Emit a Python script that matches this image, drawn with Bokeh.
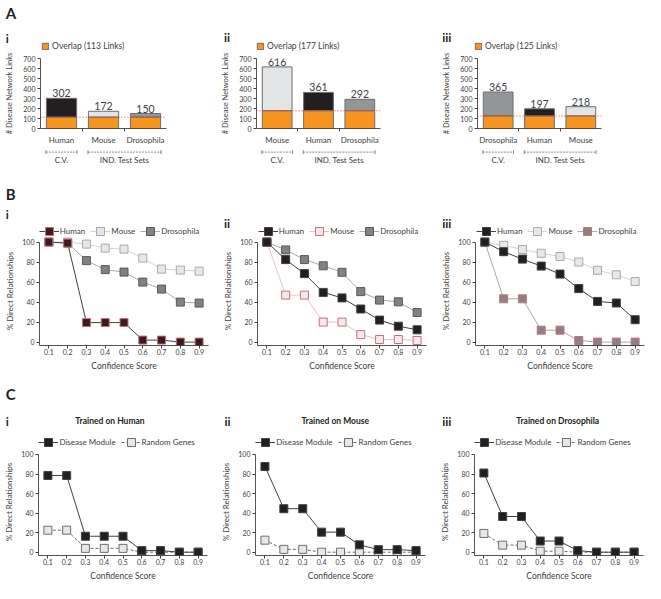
from bokeh.plotting import figure
from bokeh.models import Range1d, FixedTicker, Legend, LegendItem, Span, ColumnDataSource
from bokeh.layouts import column, row
from bokeh.embed import file_html
from bokeh.resources import INLINE
from bokeh.core.properties import value

# ------------------------------------------------------------------ data
a1_species = ["Human", "Mouse", "Drosophila"]
a1_links = [302, 172, 150]
a1_overlap = 113
a2_species = ["Mouse", "Human", "Drosophila"]
a2_links = [616, 361, 292]
a2_overlap = 177
a3_species = ["Drosophila", "Human", "Mouse"]
a3_links = [365, 197, 218]
a3_overlap = 125
a_groups = ["C.V.", "IND. Test Sets"]
a_group_sizes = [1, 2]
a_yticks = [0, 100, 200, 300, 400, 500, 600, 700]

confidence = [0.1, 0.2, 0.3, 0.4, 0.5, 0.6, 0.7, 0.8, 0.9]
pct_ticks = [0, 20, 40, 60, 80, 100]

b_species = ["Human", "Mouse", "Drosophila"]
b1_human = [100, 99, 19.5, 19.5, 19.5, 2, 2, 0, 0]
b1_mouse = [100, 100, 98, 94, 93, 84, 73, 72, 71]
b1_dros = [100, 99, 81.5, 72.5, 70, 60, 53, 40, 39]
b2_human = [100, 82.5, 68.5, 49.7, 44.2, 33.1, 22, 15.9, 12.3]
b2_mouse = [100, 47, 47, 20, 20, 7.5, 2.6, 2.6, 1.6]
b2_dros = [100, 92.2, 82.5, 76.3, 69.8, 50.5, 42, 40.3, 29.6]
b3_human = [100, 90.4, 83, 76, 68, 53.5, 40.7, 39.1, 22.4]
b3_mouse = [100, 96.8, 92.6, 88.8, 85.6, 80.1, 71.8, 67.3, 60.6]
b3_dros = [100, 43.3, 43.3, 11.9, 11.9, 1.6, 0, 0, 0]
b_trained = ["Human", "Mouse", "Drosophila"]

c_series = ["Disease Module", "Random Genes"]
c1_module = [78.5, 78.5, 16.3, 16.3, 16.3, 1.6, 1.6, 0, 0]
c1_random = [22.5, 22.5, 3.9, 3.9, 3.9, 0, 0, 0, 0]
c2_module = [87.7, 44.5, 44.5, 20.5, 20.5, 7.5, 2.6, 2.6, 1.6]
c2_random = [12.3, 2.9, 2.9, 0, 0, 0, 0, 0, 0]
c3_module = [81, 36.5, 36.5, 11.4, 11.4, 1.6, 0, 0, 0]
c3_random = [19.2, 7.2, 7.2, 1, 1, 0, 0, 0, 0]
c_titles = ["Trained on Human", "Trained on Mouse", "Trained on Drosophila"]

row_letters = ["A", "B", "C"]
numerals = ["i", "ii", "iii"]

# ------------------------------------------------------------------ styles
FONT = "Lato"
AXIS = "#414042"
TXT = "#414042"
DARK = "#231F20"
ORANGE = "#F7941E"
BAR_COLORS = {"Human": "#231F20", "Mouse": "#E3E4E5", "Drosophila": "#939598"}
BAR_LINE = "#6D6E71"
PINK = "#C3727C"
SP_STYLE = {
    "Human": dict(line="#414042", fill="#231F20", edge="#414042", dash="solid"),
    "Mouse": dict(line="#D1D3D4", fill="#E6E7E8", edge="#A7A9AC", dash="solid"),
    "Drosophila": dict(line="#A7A9AC", fill="#808285", edge="#58595B", dash="solid"),
}
TRAINED_STYLE = {
    "Human": dict(line="#414042", fill="#3B1A20", edge=PINK, dash="solid"),
    "Mouse": dict(line="#E2C4C8", fill="#F4EAEB", edge=PINK, dash="solid"),
    "Drosophila": dict(line="#A7A9AC", fill="#8E8184", edge=PINK, dash="solid"),
}
C_STYLE = {
    "Disease Module": dict(line="#414042", fill="#231F20", edge="#414042", dash="solid"),
    "Random Genes": dict(line="#6D6E71", fill="#E6E7E8", edge="#6D6E71", dash="3 2"),
}
TOTAL_W = 645
COL_W = [217, 215, 213]
OFF = -1.0e4   # proxy legend glyphs live far outside the visible range


def sp_style(name, trained):
    return TRAINED_STYLE[name] if name == trained else SP_STYLE[name]


def plain_fig(width, height, xr, yr, left=0, right=0, top=0, bottom=0, axes=True):
    kw = {} if axes else dict(x_axis_location=None, y_axis_location=None)
    p = figure(width=width, height=height, output_backend="svg", toolbar_location=None,
               x_range=xr, y_range=yr, min_border_left=left, min_border_right=right,
               min_border_top=top, min_border_bottom=bottom, **kw)
    p.outline_line_color = None
    p.grid.visible = False
    p.background_fill_color = None
    p.border_fill_color = None
    return p


def style_axes(p):
    for ax in p.axis:
        ax.axis_line_color = AXIS
        ax.axis_line_width = 0.9
        ax.major_tick_line_color = AXIS
        ax.minor_tick_line_color = AXIS
        ax.major_tick_in = 0
        ax.major_tick_out = 3
        ax.minor_tick_in = 0
        ax.minor_tick_out = 0
        ax.major_label_text_font = FONT
        ax.major_label_text_font_size = "7px"
        ax.major_label_text_color = TXT
        ax.axis_label_text_font = FONT
        ax.axis_label_text_font_size = "8px"
        ax.axis_label_text_font_style = "normal"
        ax.axis_label_text_color = TXT


# ------------------------------------------------------------------ header strips
def header(height, texts, legends):
    """texts: (text, x, y_from_top, size, align); legends: (entries, x, center_y, kind)"""
    p = plain_fig(TOTAL_W, height, Range1d(0, TOTAL_W), Range1d(0, height), axes=False)
    for txt, x, y, size, align in texts:
        p.text(x=[x], y=[height - y], text=[txt], text_font=value(FONT),
               text_font_size=value(size), text_font_style="bold", text_color=DARK,
               text_align=align, text_baseline="middle")
    for entries, x, cy, kind in legends:
        items = []
        for label, st in entries:
            if kind == "bar":
                rs = [p.vbar(x=[OFF], bottom=[OFF], top=[OFF + 1], width=1,
                             fill_color=st["fill"], line_color=st["edge"], line_width=1)]
            else:
                rs = [p.line(x=[OFF, OFF + 1], y=[OFF, OFF], line_color=st["line"],
                             line_width=1, line_dash=st["dash"]),
                      p.scatter(x=[OFF], y=[OFF], marker="square", size=8,
                                fill_color=st["fill"], line_color=st["edge"], line_width=1)]
            items.append(LegendItem(label=label, renderers=rs, index=0))
        if kind == "bar":
            gw, gh, fs, sp, so = 8, 8, "8.5px", 6, 3
        else:
            gw, gh, fs, sp, so = 20, 20, "8px", 5, 1
        leg = Legend(items=items, location=(x, height - cy - gh / 2), orientation="horizontal",
                     margin=0, padding=0, spacing=sp, glyph_width=gw, glyph_height=gh,
                     label_height=gh, label_standoff=so, label_text_font=FONT,
                     label_text_font_size=fs, label_text_color=TXT,
                     background_fill_alpha=0, border_line_color=None)
        p.add_layout(leg)
    return p


# ------------------------------------------------------------------ panel A
def bar_panel(width, species, links, overlap, left, right):
    n = len(species)
    idx = list(range(n))
    p = plain_fig(width, 96, Range1d(-0.5, n - 0.5), Range1d(0, a_yticks[-1]),
                  left, right, 7, 14)
    src = ColumnDataSource(dict(x=idx, top=links, ovl=[overlap] * n,
                                color=[BAR_COLORS[s] for s in species],
                                label=[str(v) for v in links]))
    p.vbar(x="x", bottom="ovl", top="top", width=0.72, fill_color="color",
           line_color=BAR_LINE, line_width=1, source=src)
    p.vbar(x="x", bottom=0, top="ovl", width=0.72, fill_color=ORANGE,
           line_color=BAR_LINE, line_width=1, source=src)
    p.text(x="x", y="top", text="label", source=src, text_font=value(FONT),
           text_font_size=value("10.5px"), text_color=TXT, text_align="center",
           text_baseline="bottom", y_offset=-1)
    p.add_layout(Span(location=overlap, dimension="width", line_color="#E0343C",
                      line_dash="1 2", line_width=1))
    style_axes(p)
    p.yaxis.ticker = FixedTicker(ticks=a_yticks)
    p.yaxis.axis_label = "# Disease Network Links"
    p.yaxis.axis_label_text_font_size = "7.5px"
    p.yaxis.axis_label_standoff = 6
    p.yaxis.major_label_standoff = 2
    p.xaxis.ticker = FixedTicker(ticks=idx, minor_ticks=[i + 0.5 for i in idx[:-1]])
    p.xaxis.major_label_overrides = {i: s for i, s in enumerate(species)}
    p.xaxis.major_tick_out = 0
    p.xaxis.minor_tick_out = 3
    p.xaxis.major_label_text_font_size = "8px"
    p.xaxis.major_label_standoff = 3
    return p


def bracket_panel(width, xr, left, right):
    p = plain_fig(width, 25, xr, Range1d(0, 25), left, right, 0, 0, axes=False)
    x0s, x1s, centers = [], [], []
    start = 0
    for size in a_group_sizes:
        x0s.append(start - 0.37)
        x1s.append(start + size - 1 + 0.37)
        centers.append(start + (size - 1) / 2)
        start += size
    yb = 20.4
    m = len(x0s)
    p.segment(x0=x0s, y0=[yb] * m, x1=x1s, y1=[yb] * m,
              line_color="#6D6E71", line_width=0.8, line_dash="2 1")
    p.segment(x0=x0s + x1s, y0=[yb - 2] * (2 * m), x1=x0s + x1s, y1=[yb + 2] * (2 * m),
              line_color="#6D6E71", line_width=0.8)
    p.text(x=centers, y=[12.1] * m, text=a_groups, text_font=value(FONT),
           text_font_size=value("8px"), text_color=TXT, text_align="center",
           text_baseline="middle")
    return p


# ------------------------------------------------------------------ panels B / C
def line_panel(width, height, left, right, bottom, y0, y1, series):
    p = plain_fig(width, height, Range1d(0.05, 0.95), Range1d(y0, y1), left, right, 0, bottom)
    for vals, st in series:
        p.line(confidence, vals, line_color=st["line"], line_width=1, line_dash=st["dash"])
        p.scatter(confidence, vals, marker="square", size=8, fill_color=st["fill"],
                  line_color=st["edge"], line_width=1)
    style_axes(p)
    p.yaxis.bounds = (y0, pct_ticks[-1])
    p.yaxis.ticker = FixedTicker(ticks=pct_ticks)
    p.yaxis.axis_label = "% Direct Relationships"
    p.yaxis.major_label_standoff = 2
    p.yaxis.axis_label_standoff = 4
    p.xaxis.ticker = FixedTicker(ticks=confidence)
    p.xaxis.axis_label = "Confidence Score"
    p.xaxis.major_label_standoff = 0
    p.xaxis.axis_label_standoff = 3
    p.xaxis.axis_label_text_font_size = "8.5px"
    return p


# ------------------------------------------------------------------ row A
a_data = [(a1_species, a1_links, a1_overlap), (a2_species, a2_links, a2_overlap),
          (a3_species, a3_links, a3_overlap)]
a_borders = [(40, 51), (39, 52), (45, 44)]
a_figs, br_figs = [], []
for w, (sp, lk, ov), (l, r) in zip(COL_W, a_data, a_borders):
    f = bar_panel(w, sp, lk, ov, l, r)
    a_figs.append(f)
    br_figs.append(bracket_panel(w, f.x_range, l, r))

num_x = [5.2, 223.5, 441.7]
hdrA = header(51,
              [(row_letters[0], 5.2, 12.5, "15px", "left"),
               (numerals[0], num_x[0], 38.3, "12px", "left"),
               (numerals[1], num_x[1], 36.7, "12px", "left"),
               (numerals[2], num_x[2], 36.7, "12px", "left")],
              [([(f"Overlap ({ov} Links)", dict(fill=ORANGE, edge=BAR_LINE))], x, 46.6, "bar")
               for (sp, lk, ov), x in zip(a_data, [41.1, 256, 473.9])])

# ------------------------------------------------------------------ row B
b_data = [(b1_human, b1_mouse, b1_dros), (b2_human, b2_mouse, b2_dros),
          (b3_human, b3_mouse, b3_dros)]
b_borders = [(39, 9), (40, 6), (43, 1)]
b_figs = []
for k, (w, vals, (l, r)) in enumerate(zip(COL_W, b_data, b_borders)):
    series = dict(zip(b_species, vals))
    draw = [(series[s], sp_style(s, b_trained[k])) for s in ["Drosophila", "Mouse", "Human"]]
    b_figs.append(line_panel(w, 138, l, r, 29, -3.4, 105.6, draw))

hdrB = header(64,
              [(row_letters[1], 5.2, 21.4, "15px", "left"),
               (numerals[0], num_x[0], 41.6, "12px", "left"),
               (numerals[1], num_x[1], 50.6, "12px", "left"),
               (numerals[2], num_x[2], 50.6, "12px", "left")],
              [([(s, sp_style(s, b_trained[k])) for s in b_species], x, 58.7, "line")
               for k, x in enumerate([38.8, 257.7, 475.9])])

# ------------------------------------------------------------------ row C
c_data = [(c1_module, c1_random), (c2_module, c2_random), (c3_module, c3_random)]
c_borders = [(38, 10), (38, 7), (42, 2)]
c_figs = []
for w, (mod, rnd), (l, r) in zip(COL_W, c_data, c_borders):
    draw = [(rnd, C_STYLE[c_series[1]]), (mod, C_STYLE[c_series[0]])]
    c_figs.append(line_panel(w, 135, l, r, 26, -3.4, 106.1, draw))

hdrC = header(74,
              [(row_letters[2], 5.2, 19.1, "15px", "left"),
               (numerals[0], num_x[0], 46.6, "12px", "left"),
               (numerals[1], 224, 46.6, "12px", "left"),
               (numerals[2], num_x[2], 46.6, "12px", "left"),
               (c_titles[0], 109.5, 46.6, "8.5px", "center"),
               (c_titles[1], 334.7, 46.6, "8.5px", "center"),
               (c_titles[2], 557.2, 46.6, "8.5px", "center")],
              [([(s, C_STYLE[s]) for s in c_series], x, 68.4, "line")
               for x in [38.4, 255.3, 474.2]])

page = column(hdrA, row(*a_figs), row(*br_figs),
              hdrB, row(*b_figs),
              hdrC, row(*c_figs))
open("out.html", "w").write(file_html(page, INLINE))
